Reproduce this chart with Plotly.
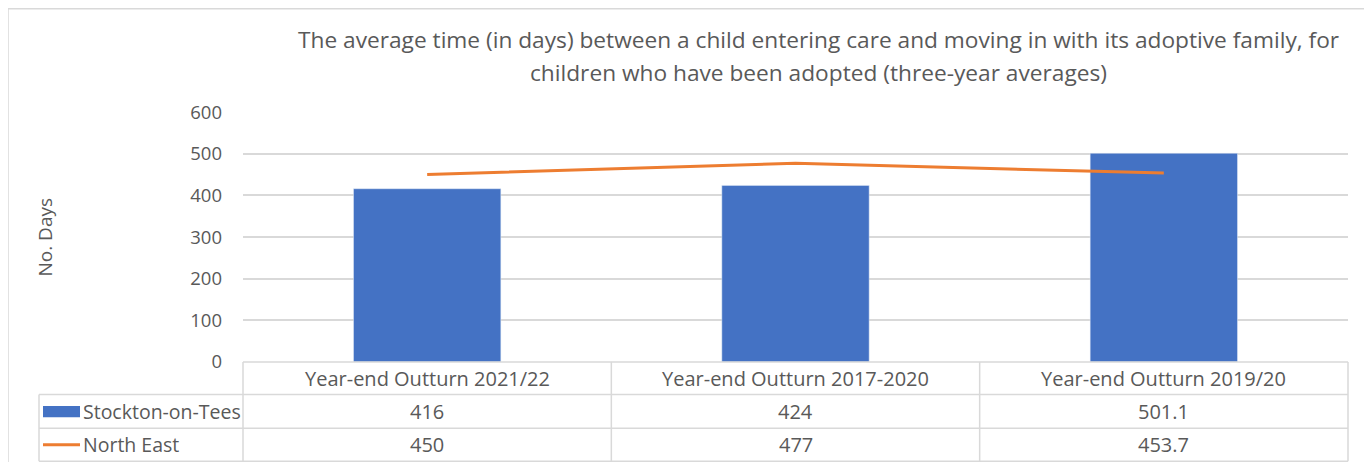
import plotly.graph_objects as go

categories = ["Year-end Outturn 2021/22", "Year-end Outturn 2017-2020", "Year-end Outturn 2019/20"]
stockton = [416, 424, 501.1]
north_east = [450, 477, 453.7]
stockton_labels = ["416", "424", "501.1"]
north_east_labels = ["450", "477", "453.7"]
series_names = ["Stockton-on-Tees", "North East"]
y_ticks = [0, 100, 200, 300, 400, 500, 600]
title_lines = ["The average time (in days) between a child entering care and moving in with its adoptive family, for",
               "children who have been adopted (three-year averages)"]

W, H = 1372, 462
FONT = "Open Sans"
TXT = "#595959"
GRID = "#D9D9D9"
BLUE = "#4472C4"
ORANGE = "#ED7D31"

# map target-pixel positions to paper fractions (calibrated against rendered output)
OX, OY, SY = 8.0, 22.2, 435.5

def px(x):
    return (x - OX) / W

def py(y):
    return 1 - (y - OY) / SY

x0, x1 = 243, 1348
y_top, y_zero = 112, 361
row_lines = [361, 393.5, 427, 460]
col_w = (x1 - x0) / len(categories)
tbl_left = 39

fig = go.Figure()
fig.add_trace(go.Bar(x=categories, y=stockton, name=series_names[0],
                     marker_color=BLUE, width=0.4, showlegend=False))
fig.add_trace(go.Scatter(x=categories, y=north_east, name=series_names[1], mode="lines",
                         line=dict(color=ORANGE, width=3), showlegend=False))

shapes = []
line_style = dict(color=GRID, width=1.5)
# outer chart border
shapes.append(dict(type="rect", xref="paper", yref="paper", x0=px(8), x1=px(1367), y0=py(490), y1=py(9),
                   line=dict(color=GRID, width=1.5)))
# table horizontals
shapes.append(dict(type="line", xref="paper", yref="paper", x0=px(x0), x1=px(x1), y0=py(row_lines[0]), y1=py(row_lines[0]), line=line_style))
for r in row_lines[1:]:
    shapes.append(dict(type="line", xref="paper", yref="paper", x0=px(tbl_left), x1=px(x1), y0=py(r), y1=py(r), line=line_style))
# table verticals
shapes.append(dict(type="line", xref="paper", yref="paper", x0=px(tbl_left), x1=px(tbl_left), y0=py(row_lines[1]), y1=py(row_lines[3]), line=line_style))
for i in range(len(categories) + 1):
    xv = x0 + i * col_w
    shapes.append(dict(type="line", xref="paper", yref="paper", x0=px(xv), x1=px(xv), y0=py(row_lines[0]), y1=py(row_lines[3]), line=line_style))
# legend keys
shapes.append(dict(type="rect", xref="paper", yref="paper", x0=px(43), x1=px(80), y0=py(416), y1=py(405),
                   fillcolor=BLUE, line=dict(width=0)))
shapes.append(dict(type="line", xref="paper", yref="paper", x0=px(43), x1=px(80), y0=py(443.5), y1=py(443.5),
                   line=dict(color=ORANGE, width=3)))

annotations = []
row_centers = [(row_lines[i] + row_lines[i + 1]) / 2 for i in range(3)]
TS = 20
for i, cat in enumerate(categories):
    cx = x0 + (i + 0.5) * col_w
    for text, rc in [(cat, row_centers[0]), (stockton_labels[i], row_centers[1]), (north_east_labels[i], row_centers[2])]:
        annotations.append(dict(xref="paper", yref="paper", x=px(cx), y=py(rc), text=text, showarrow=False,
                                xanchor="center", yanchor="middle", font=dict(family=FONT, size=TS, color=TXT)))
for name, rc in zip(series_names, row_centers[1:]):
    annotations.append(dict(xref="paper", yref="paper", x=px(81), y=py(rc), text=name, showarrow=False,
                            xanchor="left", yanchor="middle", font=dict(family=FONT, size=19.5, color=TXT)))
# axis title
annotations.append(dict(xref="paper", yref="paper", x=px(45), y=py(237), text="No. Days", textangle=-90,
                        showarrow=False, xanchor="center", yanchor="middle", font=dict(family=FONT, size=19, color=TXT)))
# chart title (two lines, Excel-like spacing)
for line_text, ly in zip(title_lines, [40, 73]):
    annotations.append(dict(xref="paper", yref="paper", x=px(818), y=py(ly), text=line_text,
                            showarrow=False, xanchor="center", yanchor="middle",
                            font=dict(family=FONT, size=22.7, color=TXT)))

fig.update_layout(
    width=W, height=H, margin=dict(l=0, r=0, t=0, b=0),
    paper_bgcolor="white", plot_bgcolor="white",
    shapes=shapes, annotations=annotations,
    xaxis=dict(domain=[px(x0), px(x1)], showticklabels=False, showgrid=False, zeroline=False,
               showline=False, ticks="", range=[-0.5, 2.5]),
    yaxis=dict(domain=[py(y_zero), py(y_top)], range=[0, 600], tickvals=y_ticks,
               showgrid=True, gridcolor=GRID, gridwidth=1.5, zeroline=False, showline=False, ticks="",
               ticklabelstandoff=20, tickfont=dict(family=FONT, size=18.5, color=TXT)),
)

fig.write_html("out.html")
